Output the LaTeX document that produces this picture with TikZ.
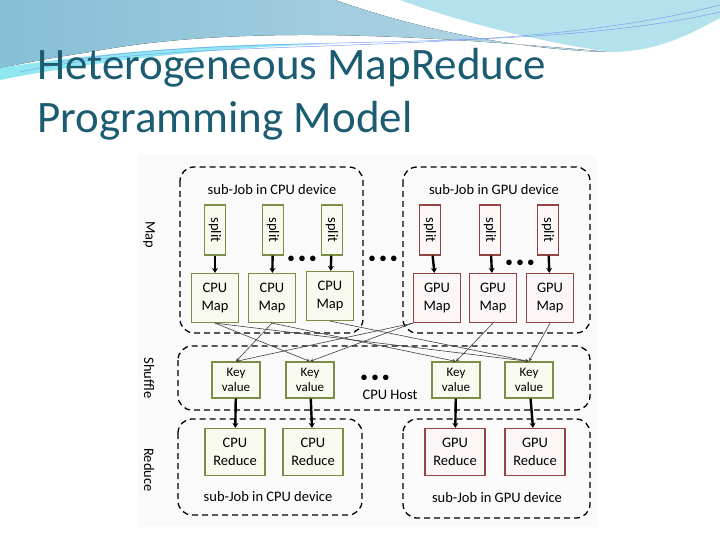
\documentclass[tikz,border=0pt]{standalone}
\usepackage{fontspec}
\setmainfont{Carlito}
\usepackage{xcolor}
\usetikzlibrary{arrows.meta}
\definecolor{titleteal}{HTML}{1B5C72}
\definecolor{cpuline}{HTML}{7A8F45}
\definecolor{cpufill}{HTML}{F8FAF0}
\definecolor{gpuline}{HTML}{944343}
\definecolor{gpufill}{HTML}{FDF6F6}
\definecolor{waveblue}{HTML}{86BFD6}
\definecolor{wavecyan}{HTML}{B3E2EC}
\begin{document}
\begin{tikzpicture}
    [x=1pt, y=-1pt, >=stealth,
     every node/.style={font=\fontsize{14.5}{15}\selectfont, align=center, inner sep=0pt},
     cpubox/.style={draw=cpuline, fill=cpufill, line width=1.2pt},
     gpubox/.style={draw=gpuline, fill=gpufill, line width=1.2pt},
     splitbox/.style={minimum width=21pt, minimum height=50pt},
     mapbox/.style={minimum width=47pt, minimum height=49pt},
     kvbox/.style={minimum width=48pt, minimum height=36pt},
     redbox/.style={minimum width=60pt, minimum height=47pt},
     region/.style={draw, dashed, dash pattern=on 6pt off 4pt, line width=1.3pt, rounded corners=14pt},
     feed/.style={->, line width=2.4pt, >={Stealth[length=5pt,width=6pt]}},
     shuf/.style={->, draw=black!75, line width=0.6pt},
     dots/.style={font=\fontsize{13}{13}\selectfont\bfseries}]
    \useasboundingbox (0,0) rectangle (720,540);
    % background waves
    \fill[left color=waveblue, right color=waveblue!60!white]
        (0,0) -- (335,0) .. controls (420,30) and (520,50) .. (610,52)
        .. controls (450,38) and (250,22) .. (90,52)
        .. controls (50,58) and (20,64) .. (0,68) -- cycle;
    \fill[wavecyan] (400,0) -- (720,0) -- (720,18)
        .. controls (680,40) and (650,52) .. (610,52)
        .. controls (540,42) and (460,22) .. (400,0) -- cycle;
    \fill[wavecyan!80!cyan] (0,68) .. controls (60,58) and (200,42) .. (330,44)
        .. controls (200,48) and (80,64) .. (0,80) -- cycle;
    \draw[wavecyan!70!blue, line width=0.5pt] (20,72) .. controls (200,32) and (500,62) .. (720,5);
    \draw[wavecyan!70!blue, line width=0.5pt] (60,62) .. controls (250,30) and (520,57) .. (720,12);
    \fill[black!2] (138,155) rectangle (597,527);
    % title
    \node[anchor=base west, font=\fontsize{45}{48}\selectfont, text=titleteal] (title) at (37,80) {Heterogeneous MapReduce};
    \node[anchor=base west, font=\fontsize{45}{48}\selectfont, text=titleteal] (subtitle) at (37,133) {Programming Model};
    % dashed regions
    \draw[region] (180,167) rectangle (363,333);
    \draw[region] (403,167) rectangle (590,333);
    \draw[region] (178,346) rectangle (590,410);
    \draw[region] (178,419) rectangle (362,515);
    \draw[region] (403,419) rectangle (590,518);
    \node (cpujob) at (272,190) {sub-Job in CPU device};
    \node (gpujob) at (494,190) {sub-Job in GPU device};
    \node (cpuredjob) at (268,497) {sub-Job in CPU device};
    \node (gpuredjob) at (497,498) {sub-Job in GPU device};
    % phase labels
    \node[rotate=-90] (lblmap) at (149,235) {Map};
    \node[rotate=-90] (lblshuffle) at (149,378) {Shuffle};
    \node[rotate=-90] (lblreduce) at (149,470) {Reduce};
    % map phase
    \node[cpubox, splitbox] (cpusplitA) at (215,230) {\rotatebox{-90}{split}};
    \node[cpubox, splitbox] (cpusplitB) at (273,230) {\rotatebox{-90}{split}};
    \node[cpubox, splitbox] (cpusplitC) at (332,230) {\rotatebox{-90}{split}};
    \node[gpubox, splitbox] (gpusplitA) at (430,230) {\rotatebox{-90}{split}};
    \node[gpubox, splitbox] (gpusplitB) at (490,230) {\rotatebox{-90}{split}};
    \node[gpubox, splitbox] (gpusplitC) at (548,230) {\rotatebox{-90}{split}};
    \node[cpubox, mapbox] (cpumapA) at (215,298) {CPU\\[3pt]Map};
    \node[cpubox, mapbox] (cpumapB) at (272,298) {CPU\\[3pt]Map};
    \node[cpubox, mapbox] (cpumapC) at (330,296) {CPU\\[3pt]Map};
    \node[gpubox, mapbox] (gpumapA) at (437,298) {GPU\\[3pt]Map};
    \node[gpubox, mapbox] (gpumapB) at (493,298) {GPU\\[3pt]Map};
    \node[gpubox, mapbox] (gpumapC) at (550,298) {GPU\\[3pt]Map};
    \node[dots] (dotsA) at (302,259) {\textbullet\,\,\textbullet\,\,\textbullet};
    \node[dots] (dotsB) at (383,259) {\textbullet\,\,\textbullet\,\,\textbullet};
    \node[dots] (dotsC) at (520,263) {\textbullet\,\,\textbullet\,\,\textbullet};
    \draw[feed] (cpusplitA) -- (cpumapA);
    \draw[feed] (cpusplitB) -- (cpumapB);
    \draw[feed] (cpusplitC) -- (cpumapC);
    \draw[feed] (gpusplitA) -- (gpumapA);
    \draw[feed] (gpusplitB) -- (gpumapB);
    \draw[feed] (gpusplitC) -- (gpumapC);
    % shuffle phase
    \node[cpubox, kvbox, font=\fontsize{13}{14}\selectfont] (kvA) at (236,380) {Key\\[1pt]value};
    \node[cpubox, kvbox, font=\fontsize{13}{14}\selectfont] (kvB) at (310,380) {Key\\[1pt]value};
    \node[cpubox, kvbox, font=\fontsize{13}{14}\selectfont] (kvC) at (456,380) {Key\\[1pt]value};
    \node[cpubox, kvbox, font=\fontsize{13}{14}\selectfont] (kvD) at (529,380) {Key\\[1pt]value};
    \node[dots] (dotsD) at (375,378) {\textbullet\,\,\textbullet\,\,\textbullet};
    \node (host) at (390,395) {CPU Host};
    \draw[shuf] (cpumapA.south) -- (kvB.north);
    \draw[shuf] (cpumapA.south) -- (kvD.north);
    \draw[shuf] (cpumapB.south) -- (kvA.north);
    \draw[shuf] (cpumapB.south) -- (kvC.north);
    \draw[shuf] (cpumapC.south) -- (kvD.north);
    \draw[shuf] (gpumapA.south west) -- (kvA.north);
    \draw[shuf] (gpumapA.south west) -- (kvB.north);
    \draw[shuf] (gpumapB.south) -- (kvC.north);
    \draw[shuf] (gpumapC.south) -- (kvD.north);
    % reduce phase
    \node[cpubox, redbox] (cpuredA) at (235,452) {CPU\\[3pt]Reduce};
    \node[cpubox, redbox] (cpuredB) at (313,452) {CPU\\[3pt]Reduce};
    \node[gpubox, redbox] (gpuredA) at (455,452) {GPU\\[3pt]Reduce};
    \node[gpubox, redbox] (gpuredB) at (535,452) {GPU\\[3pt]Reduce};
    \draw[feed] (kvA) -- (cpuredA);
    \draw[feed] (kvB) -- (cpuredB);
    \draw[feed] (kvC) -- (gpuredA);
    \draw[feed] (kvD) -- (gpuredB);
\end{tikzpicture}
\end{document}
